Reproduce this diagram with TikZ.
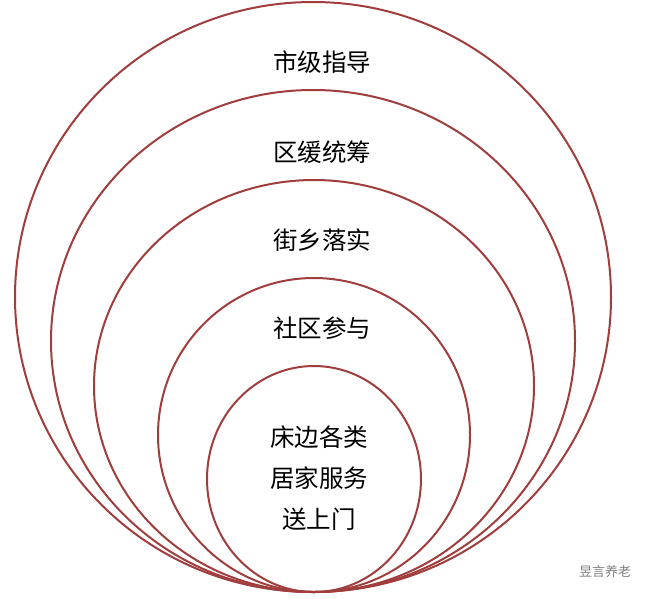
\documentclass[tikz,border=0pt]{standalone}
\usepackage{fontspec}
\newfontfamily\cjk{Noto Sans CJK SC}
\definecolor{ring}{RGB}{160,62,62}
\begin{document}
\begin{tikzpicture}[x=1pt,y=-1pt,
  ringst/.style={draw=ring,line width=2pt},
  lab/.style={font=\cjk\fontsize{24.5}{41}\selectfont,align=center,text=black}]
\useasboundingbox[fill=white] (0,0) rectangle (650,598);
\draw[ringst] (313,297) ellipse [x radius=298,y radius=295];
\draw[ringst] (313,341) ellipse [x radius=262,y radius=251];
\draw[ringst] (314,386) ellipse [x radius=220,y radius=206];
\draw[ringst] (314,435) ellipse [x radius=156,y radius=157];
\draw[ringst] (314,479) ellipse [x radius=107,y radius=113];
\node[lab] (t1) at (322,62) {市级指导};
\node[lab] (t2) at (322,152) {区缓统筹};
\node[lab] (t3) at (322,240) {街乡落实};
\node[lab] (t4) at (322,328) {社区参与};
\node[lab] (t5) at (319,478) {床边各类\\居家服务\\送上门};
\node[font=\cjk\fontsize{13}{15}\selectfont,text=gray] (w) at (605,572) {昱言养老};
\end{tikzpicture}
\end{document}
